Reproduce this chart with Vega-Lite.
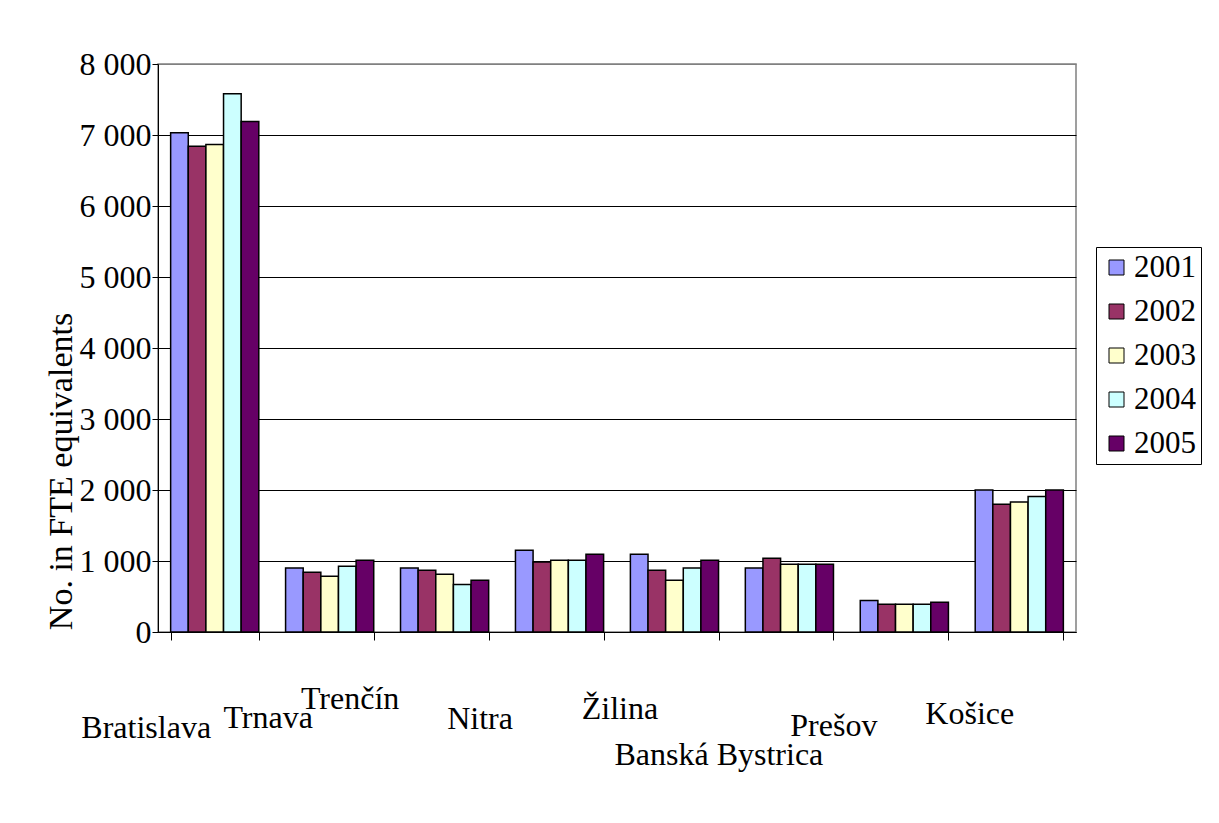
{
  "$schema": "https://vega.github.io/schema/vega-lite/v6.json",
  "width": 918,
  "height": 568,
  "autosize": {"type": "none"},
  "padding": {"left": 158, "top": 64, "right": 143, "bottom": 191},
  "background": "white",
  "config": {
    "font": "Liberation Serif",
    "view": {"stroke": "#808080", "strokeWidth": 1.5},
    "axis": {"labelColor": "black", "titleColor": "black", "domainColor": "black", "tickColor": "black", "labelFont": "Liberation Serif", "titleFont": "Liberation Serif"}
  },
  "data": {
    "values": [
      {"region": "Bratislava", "year": "2001", "fte": 7030},
      {"region": "Bratislava", "year": "2002", "fte": 6840},
      {"region": "Bratislava", "year": "2003", "fte": 6865},
      {"region": "Bratislava", "year": "2004", "fte": 7580},
      {"region": "Bratislava", "year": "2005", "fte": 7190},
      {"region": "Trnava", "year": "2001", "fte": 900},
      {"region": "Trnava", "year": "2002", "fte": 840},
      {"region": "Trnava", "year": "2003", "fte": 785},
      {"region": "Trnava", "year": "2004", "fte": 925},
      {"region": "Trnava", "year": "2005", "fte": 1010},
      {"region": "Trenčín", "year": "2001", "fte": 900},
      {"region": "Trenčín", "year": "2002", "fte": 870},
      {"region": "Trenčín", "year": "2003", "fte": 815},
      {"region": "Trenčín", "year": "2004", "fte": 670},
      {"region": "Trenčín", "year": "2005", "fte": 730},
      {"region": "Nitra", "year": "2001", "fte": 1150},
      {"region": "Nitra", "year": "2002", "fte": 985},
      {"region": "Nitra", "year": "2003", "fte": 1010},
      {"region": "Nitra", "year": "2004", "fte": 1010},
      {"region": "Nitra", "year": "2005", "fte": 1095},
      {"region": "Žilina", "year": "2001", "fte": 1095},
      {"region": "Žilina", "year": "2002", "fte": 870},
      {"region": "Žilina", "year": "2003", "fte": 730},
      {"region": "Žilina", "year": "2004", "fte": 900},
      {"region": "Žilina", "year": "2005", "fte": 1010},
      {"region": "Banská Bystrica", "year": "2001", "fte": 900},
      {"region": "Banská Bystrica", "year": "2002", "fte": 1040},
      {"region": "Banská Bystrica", "year": "2003", "fte": 955},
      {"region": "Banská Bystrica", "year": "2004", "fte": 955},
      {"region": "Banská Bystrica", "year": "2005", "fte": 955},
      {"region": "Prešov", "year": "2001", "fte": 445},
      {"region": "Prešov", "year": "2002", "fte": 390},
      {"region": "Prešov", "year": "2003", "fte": 390},
      {"region": "Prešov", "year": "2004", "fte": 390},
      {"region": "Prešov", "year": "2005", "fte": 420},
      {"region": "Košice", "year": "2001", "fte": 2000},
      {"region": "Košice", "year": "2002", "fte": 1800},
      {"region": "Košice", "year": "2003", "fte": 1830},
      {"region": "Košice", "year": "2004", "fte": 1910},
      {"region": "Košice", "year": "2005", "fte": 2000}
    ]
  },
  "mark": {"type": "bar", "stroke": "black", "strokeWidth": 1.5},
  "encoding": {
    "x": {
      "field": "region",
      "type": "nominal",
      "sort": null,
      "scale": {"paddingInner": 0.233, "paddingOuter": 0.11},
      "axis": {
        "title": null,
        "labelAngle": 0,
        "labelFontSize": 32,
        "labelAlign": "center",
        "labelBaseline": "alphabetic",
        "labelOverlap": false,
        "labelBound": false,
        "labelLimit": 0,
        "tickSize": 8,
        "tickBand": "extent",
        "domainWidth": 1,
        "labelPadding": {"expr": "datum.value=='Bratislava'?97:datum.value=='Trnava'?87:datum.value=='Trenčín'?68:datum.value=='Nitra'?88:datum.value=='Žilina'?78:datum.value=='Banská Bystrica'?124:datum.value=='Prešov'?95:83"},
        "labelOffset": {"expr": "datum.value=='Bratislava'?-69:datum.value=='Trnava'?-62:datum.value=='Trenčín'?-95:datum.value=='Nitra'?-80:datum.value=='Žilina'?-55:datum.value=='Banská Bystrica'?-71:datum.value=='Prešov'?-71:-50"}
      }
    },
    "xOffset": {"field": "year", "type": "nominal", "scale": {"paddingInner": 0, "paddingOuter": 0}},
    "y": {
      "field": "fte",
      "type": "quantitative",
      "scale": {"domain": [0, 8000], "nice": false},
      "axis": {
        "values": [0, 1000, 2000, 3000, 4000, 5000, 6000, 7000, 8000],
        "labelExpr": "replace(format(datum.value, ',d'), ',', ' ')",
        "labelFontSize": 32,
        "labelPadding": 1,
        "tickSize": 6,
        "grid": true,
        "gridColor": {"condition": {"test": "datum.value == 8000", "value": "#808080"}, "value": "black"},
        "gridWidth": 1,
        "title": "No.  in FTE equivalents",
        "titleFontSize": 34,
        "titleFontWeight": "normal",
        "titleAngle": -90,
        "titleAlign": "center",
        "titleBaseline": "alphabetic",
        "titleX": -87,
        "titleY": 407
      }
    },
    "color": {
      "field": "year",
      "type": "nominal",
      "scale": {"domain": ["2001", "2002", "2003", "2004", "2005"], "range": ["#9999FF", "#993366", "#FFFFCC", "#CCFFFF", "#660066"]},
      "legend": {
        "title": null,
        "orient": "none",
        "legendX": 938,
        "legendY": 183,
        "direction": "vertical",
        "strokeColor": "black",
        "fillColor": "white",
        "padding": 5,
        "symbolType": "square",
        "symbolSize": 225,
        "symbolStrokeColor": "black",
        "symbolStrokeWidth": 1,
        "labelFont": "Liberation Serif",
        "labelFontSize": 31,
        "labelColor": "black",
        "labelOffset": 2,
        "labelLimit": 0,
        "rowPadding": 12
      }
    }
  }
}
